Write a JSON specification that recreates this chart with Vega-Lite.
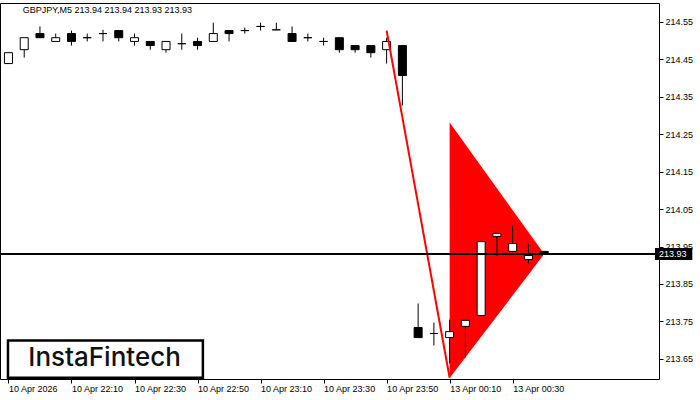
{
  "$schema": "https://vega.github.io/schema/vega-lite/v6.json",
  "width": 659,
  "height": 376,
  "autosize": {"type": "none"},
  "padding": {"left": 0, "top": 3, "right": 41, "bottom": 21},
  "background": "white",
  "config": {
    "view": {"stroke": "black", "strokeWidth": 1},
    "axis": {"labelFont": "Liberation Sans", "labelFontSize": 9, "labelColor": "black", "tickColor": "black", "domain": false, "grid": false}
  },
  "data": {"values": [
    {"i": 0, "o": 214.438, "h": 214.467, "l": 214.438, "c": 214.467},
    {"i": 1, "o": 214.475, "h": 214.507, "l": 214.454, "c": 214.507},
    {"i": 2, "o": 214.518, "h": 214.537, "l": 214.507, "c": 214.507},
    {"i": 3, "o": 214.497, "h": 214.518, "l": 214.497, "c": 214.507},
    {"i": 4, "o": 214.518, "h": 214.526, "l": 214.486, "c": 214.497},
    {"i": 5, "o": 214.507, "h": 214.518, "l": 214.497, "c": 214.507},
    {"i": 6, "o": 214.518, "h": 214.528, "l": 214.497, "c": 214.518},
    {"i": 7, "o": 214.526, "h": 214.526, "l": 214.497, "c": 214.507},
    {"i": 8, "o": 214.497, "h": 214.518, "l": 214.486, "c": 214.507},
    {"i": 9, "o": 214.497, "h": 214.497, "l": 214.475, "c": 214.486},
    {"i": 10, "o": 214.475, "h": 214.497, "l": 214.467, "c": 214.497},
    {"i": 11, "o": 214.491, "h": 214.518, "l": 214.475, "c": 214.491},
    {"i": 12, "o": 214.497, "h": 214.507, "l": 214.475, "c": 214.486},
    {"i": 13, "o": 214.497, "h": 214.547, "l": 214.497, "c": 214.518},
    {"i": 14, "o": 214.526, "h": 214.526, "l": 214.497, "c": 214.518},
    {"i": 15, "o": 214.526, "h": 214.534, "l": 214.518, "c": 214.526},
    {"i": 16, "o": 214.537, "h": 214.547, "l": 214.526, "c": 214.537},
    {"i": 17, "o": 214.528, "h": 214.547, "l": 214.528, "c": 214.528},
    {"i": 18, "o": 214.518, "h": 214.537, "l": 214.497, "c": 214.497},
    {"i": 19, "o": 214.507, "h": 214.518, "l": 214.497, "c": 214.507},
    {"i": 20, "o": 214.497, "h": 214.507, "l": 214.486, "c": 214.497},
    {"i": 21, "o": 214.507, "h": 214.507, "l": 214.467, "c": 214.475},
    {"i": 22, "o": 214.486, "h": 214.486, "l": 214.467, "c": 214.475},
    {"i": 23, "o": 214.486, "h": 214.486, "l": 214.454, "c": 214.467},
    {"i": 24, "o": 214.475, "h": 214.507, "l": 214.438, "c": 214.497},
    {"i": 25, "o": 214.486, "h": 214.486, "l": 214.326, "c": 214.406},
    {"i": 26, "o": 213.734, "h": 213.798, "l": 213.707, "c": 213.707},
    {"i": 27, "o": 213.718, "h": 213.747, "l": 213.686, "c": 213.718},
    {"i": 28, "o": 213.707, "h": 213.755, "l": 213.638, "c": 213.723},
    {"i": 29, "o": 213.737, "h": 213.753, "l": 213.654, "c": 213.753},
    {"i": 30, "o": 213.766, "h": 213.963, "l": 213.766, "c": 213.963},
    {"i": 31, "o": 213.977, "h": 213.985, "l": 213.926, "c": 213.985},
    {"i": 32, "o": 213.937, "h": 214.006, "l": 213.937, "c": 213.958},
    {"i": 33, "o": 213.915, "h": 213.958, "l": 213.905, "c": 213.926},
    {"i": 34, "o": 213.937, "h": 213.937, "l": 213.93, "c": 213.93}
  ]},
  "layer": [
    {
      "data": {"values": [
        {"i": 28, "p": 214.281, "p2": 213.599},
        {"i": 34, "p": 213.93, "p2": 213.93}
      ]},
      "mark": {"type": "area", "color": "#FF0000", "opacity": 1},
      "encoding": {
        "x": {"field": "i", "type": "quantitative", "title": null, "scale": {"domain": [-0.21875, 40.96875], "nice": false, "zero": false},
          "axis": {"values": [0, 4, 8, 12, 16, 20, 24, 28, 32], "labelExpr": "['10 Apr 2026','10 Apr 22:10','10 Apr 22:30','10 Apr 22:50','10 Apr 23:10','10 Apr 23:30','10 Apr 23:50','13 Apr 00:10','13 Apr 00:30'][datum.value/4]", "labelAlign": "left", "tickSize": 4, "labelPadding": 1, "labelFlush": false, "labelOverlap": false, "title": null}},
        "y": {"field": "p", "type": "quantitative", "title": null, "scale": {"domain": [213.59656, 214.59956], "nice": false, "zero": false},
          "axis": {"orient": "right", "values": [213.65, 213.75, 213.85, 213.95, 214.05, 214.15, 214.25, 214.35, 214.45, 214.55], "format": ".2f", "tickSize": 4, "labelPadding": 2, "labelAlign": "left", "labelBaseline": "middle", "labelOverlap": false, "labelFlush": false, "title": null}},
        "y2": {"field": "p2"}
      }
    },
    {
      "mark": {"type": "rule", "color": "black", "strokeWidth": 1},
      "encoding": {
        "x": {"field": "i", "type": "quantitative", "title": null},
        "y": {"field": "l", "type": "quantitative", "title": null},
        "y2": {"field": "h"}
      }
    },
    {
      "mark": {"type": "bar", "size": 8, "stroke": "black", "strokeWidth": 1},
      "encoding": {
        "x": {"field": "i", "type": "quantitative", "title": null},
        "y": {"field": "o", "type": "quantitative", "title": null},
        "y2": {"field": "c"},
        "fill": {"condition": {"test": "datum.c > datum.o", "value": "white"}, "value": "black"}
      }
    },
    {
      "data": {"values": [
        {"i": 24, "p": 214.526},
        {"i": 28, "p": 213.6}
      ]},
      "mark": {"type": "line", "color": "#FF0000", "strokeWidth": 2},
      "encoding": {
        "x": {"field": "i", "type": "quantitative", "title": null},
        "y": {"field": "p", "type": "quantitative", "title": null}
      }
    },
    {
      "mark": {"type": "rule", "color": "black", "strokeWidth": 1},
      "encoding": {"y": {"datum": 213.93, "type": "quantitative"}}
    },
    {
      "data": {"values": [{"i": -0.03, "i2": 12.34, "p": 213.6, "p2": 213.699}]},
      "mark": {"type": "rect", "fill": "white", "stroke": "black", "strokeWidth": 2.5},
      "encoding": {
        "x": {"field": "i", "type": "quantitative", "title": null},
        "x2": {"field": "i2"},
        "y": {"field": "p", "type": "quantitative", "title": null},
        "y2": {"field": "p2"}
      }
    },
    {
      "data": {"values": [{"i": 6.1, "p": 213.653, "t": "InstaFintech"}]},
      "mark": {"type": "text", "font": "Inter", "fontSize": 26, "fontWeight": 500, "color": "#111111", "align": "center", "baseline": "middle"},
      "encoding": {
        "x": {"field": "i", "type": "quantitative", "title": null},
        "y": {"field": "p", "type": "quantitative", "title": null},
        "text": {"field": "t"}
      }
    },
    {
      "data": {"values": [{"i": 0.9, "p": 214.582, "t": "GBPJPY,M5  213.94 213.94 213.93 213.93"}]},
      "mark": {"type": "text", "font": "Liberation Sans", "fontSize": 9, "color": "black", "align": "left", "baseline": "middle"},
      "encoding": {
        "x": {"field": "i", "type": "quantitative", "title": null},
        "y": {"field": "p", "type": "quantitative", "title": null},
        "text": {"field": "t"}
      }
    },
    {
      "data": {"values": [{"i": 41.03, "i2": 43.4, "p": 213.914, "p2": 213.946}]},
      "mark": {"type": "rect", "fill": "black"},
      "encoding": {
        "x": {"field": "i", "type": "quantitative", "title": null},
        "x2": {"field": "i2"},
        "y": {"field": "p", "type": "quantitative", "title": null},
        "y2": {"field": "p2"}
      }
    },
    {
      "data": {"values": [{"i": 41.28, "p": 213.93, "t": "213.93"}]},
      "mark": {"type": "text", "font": "Liberation Sans", "fontSize": 9, "color": "white", "align": "left", "baseline": "middle"},
      "encoding": {
        "x": {"field": "i", "type": "quantitative", "title": null},
        "y": {"field": "p", "type": "quantitative", "title": null},
        "text": {"field": "t"}
      }
    }
  ]
}
